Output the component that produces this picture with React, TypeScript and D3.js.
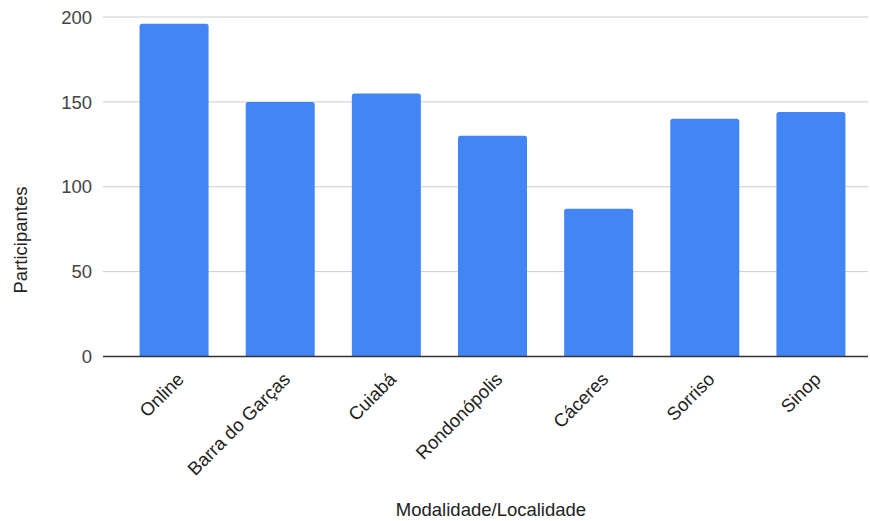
import * as d3 from 'd3';

const categories = ['Online', 'Barra do Garças', 'Cuiabá', 'Rondonópolis', 'Cáceres', 'Sorriso', 'Sinop'];
const participantes = [196, 150, 155, 130, 87, 140, 144];
const yTicks = [0, 50, 100, 150, 200];

const W = 870;
const H = 521;
const FONT = '"Liberation Sans", Arial, sans-serif';

// rounded top corners only, like the Sheets bars
function barPath(x: number, y: number, w: number, h: number, r: number) {
  return `M${x},${y + h}V${y + r}Q${x},${y} ${x + r},${y}H${x + w - r}Q${x + w},${y} ${x + w},${y + r}V${y + h}Z`;
}

export default function App() {
  const gridLeft = 103;
  const gridRight = 868;
  const y = d3.scaleLinear().domain([0, 200]).range([356.5, 17]);
  const x = d3.scaleBand<string>().domain(categories).range([121, 864]).paddingInner(0.35).paddingOuter(0.175);

  return (
    <div style={{ position: 'fixed', left: 0, top: 0, width: W, height: H, overflow: 'hidden', background: '#fff' }}>
      <svg width={W} height={H} style={{ display: 'block' }} fontFamily={FONT}>
        {yTicks.map((t) => (
          <g key={t}>
            {t !== 0 && (
              <line x1={gridLeft} x2={gridRight} y1={y(t)} y2={y(t)} stroke="#cccccc" strokeWidth={1} />
            )}
            <text x={92} y={y(t)} dy="0.36em" textAnchor="end" fontSize={18.5} fill="#444">{t}</text>
          </g>
        ))}
        {categories.map((c, i) => {
          const bx = x(c) ?? 0;
          return (
            <path key={c} d={barPath(bx, y(participantes[i]), x.bandwidth(), y(0) - y(participantes[i]), 2.5)} fill="#4285f4" />
          );
        })}
        <line x1={gridLeft} x2={gridRight} y1={y(0)} y2={y(0)} stroke="#333" strokeWidth={1.5} />
        {categories.map((c) => {
          const cx = (x(c) ?? 0) + x.bandwidth() / 2 + 11;
          const cy = y(0) + 24;
          return (
            <text key={c} x={cx} y={cy} textAnchor="end" fontSize={18.5} fill="#222"
              transform={`rotate(-45 ${cx} ${cy})`}>{c}</text>
          );
        })}
        <text x={491} y={516} textAnchor="middle" fontSize={18.5} fill="#222">Modalidade/Localidade</text>
        <text transform={`translate(27 ${240}) rotate(-90)`} textAnchor="middle" fontSize={18.5} fill="#222">Participantes</text>
      </svg>
    </div>
  );
}
